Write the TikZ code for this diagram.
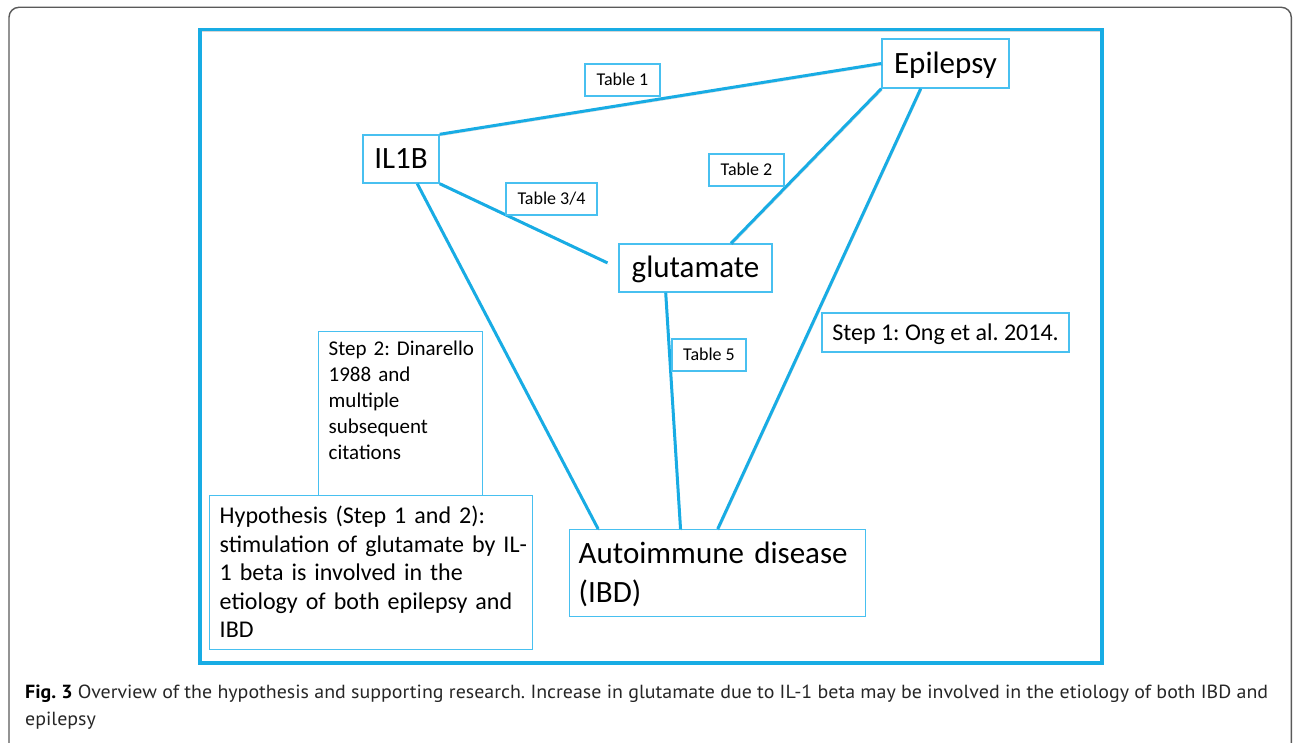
\documentclass[tikz,border=0pt]{standalone}
\usepackage{fontspec}
\usepackage{graphicx}
\setmainfont{Carlito}
\newfontfamily\capfont{PT Sans}
\usetikzlibrary{calc}
\frenchspacing
\definecolor{lineblue}{RGB}{24,172,228}
\definecolor{boxblue}{RGB}{72,192,240}
\definecolor{framegray}{RGB}{90,90,90}
\newlength\capw
\newcommand\capsize{\capfont\fontsize{19}{23}\selectfont}
\newcommand\capone{\textbf{\color{black}Fig. 3} Overview of the hypothesis and supporting research. Increase in glutamate due to IL-1 beta may be involved in the etiology of both IBD and}
\begin{document}
\settowidth\capw{\capsize\capone}%
\pgfmathsetmacro\capscale{1243/\capw}%
\begin{tikzpicture}[x=1pt,y=-1pt,
  shad/.style={preaction={draw=black,opacity=0.16,transform canvas={shift={(1pt,-1.6pt)}}}},
  conn/.style={draw=lineblue,line width=3pt,shad},
  frame/.style={draw=lineblue,line width=3.4pt,shad},
  lbl/.style={draw=boxblue,line width=1.4pt,fill=white,inner sep=0pt,text depth=0pt,anchor=center},
  big/.style={lbl,font=\fontsize{31}{37}\selectfont,text height=20pt},
  tbl/.style={lbl,font=\fontsize{18}{22}\selectfont,text height=11.6pt},
  mid/.style={lbl,font=\fontsize{24}{29}\selectfont,text height=15.5pt},
  multi/.style={draw=boxblue,line width=1.4pt,fill=white,inner ysep=0pt,align=left,anchor=north west},
]
\useasboundingbox (0,0) rectangle (1293,743);
\fill[white] (0,0) rectangle (1293,743);
\begin{scope}
  \clip (0,0) rectangle (1293,743);
  \draw[framegray,line width=1.4pt,rounded corners=10pt] (9,7.3) rectangle (1291.3,800);
\end{scope}

% inner frame
\draw[frame] (200,29.5) rectangle (1102,663);

% main nodes
\node[big,minimum width=127pt,minimum height=49pt] (epi) at (945.5,63.5) {Epilepsy};
\node[big,minimum width=76pt,minimum height=48pt] (il1b) at (401,159) {IL1B};
\node[big,minimum width=153pt,minimum height=48pt] (glu) at (695.5,268) {glutamate};
\node[multi,text width=278pt,inner xsep=9pt,font=\fontsize{31}{39}\selectfont] (auto) at (569,529)
  {\mbox{\rule{0pt}{34pt}Autoimmune disease}\\\mbox{(IBD)\rule[-14pt]{0pt}{0pt}}};

% connectors
\draw[conn] (il1b.north east) -- (epi.west);
\draw[conn] (epi.south west) -- ($(glu.north west)!0.73!(glu.north east)$);
\draw[conn] ($(epi.south west)!0.307!(epi.south east)$) -- (auto.north);
\draw[conn,shorten >=12pt] (il1b.south east) -- (glu.west);
\draw[conn] ($(il1b.south west)!0.71!(il1b.south east)$) -- ($(auto.north west)!0.098!(auto.north east)$);
\draw[conn] ($(glu.south west)!0.307!(glu.south east)$) -- ($(auto.north west)!0.375!(auto.north east)$);

% labels
\node[tbl,minimum width=75pt,minimum height=32pt] (t1) at (622.5,80) {Table 1};
\node[tbl,minimum width=75pt,minimum height=32pt] (t2) at (746.5,170) {Table 2};
\node[tbl,minimum width=91pt,minimum height=32pt] (t34) at (551.5,199) {Table 3/4};
\node[tbl,minimum width=74pt,minimum height=32pt] (t5) at (709,355) {Table 5};
\node[mid,minimum width=247pt,minimum height=39pt] (step1) at (945.5,332.5) {Step 1: Ong et al. 2014.};

\node[multi,text width=144pt,inner xsep=10pt,font=\fontsize{21}{26}\selectfont] (step2) at (318,331)
  {\mbox{\rule{0pt}{24pt}Step 2: Dinarello}\\\mbox{1988 and}\\\mbox{multiple}\\\mbox{subsequent}\\\mbox{citations\rule[-36pt]{0pt}{0pt}}};
\node[multi,text width=303pt,inner xsep=10pt,font=\fontsize{24}{28.5}\selectfont] (hyp) at (209,495)
  {\mbox{\rule{0pt}{28pt}Hypothesis (Step 1 and 2):}\\\mbox{stimulation of glutamate by IL-}\\\mbox{1 beta is involved in the}\\\mbox{etiology of both epilepsy and}\\\mbox{IBD\rule[-12pt]{0pt}{0pt}}};

% caption
\node[anchor=base west,inner sep=0pt,text=black!85] (cap1) at (25,698)
  {\scalebox{\capscale}[1]{\capsize\capone}};
\node[anchor=base west,inner sep=0pt,text=black!85] (cap2) at (25,725)
  {\scalebox{\capscale}[1]{\capsize epilepsy}};
\end{tikzpicture}
\end{document}
